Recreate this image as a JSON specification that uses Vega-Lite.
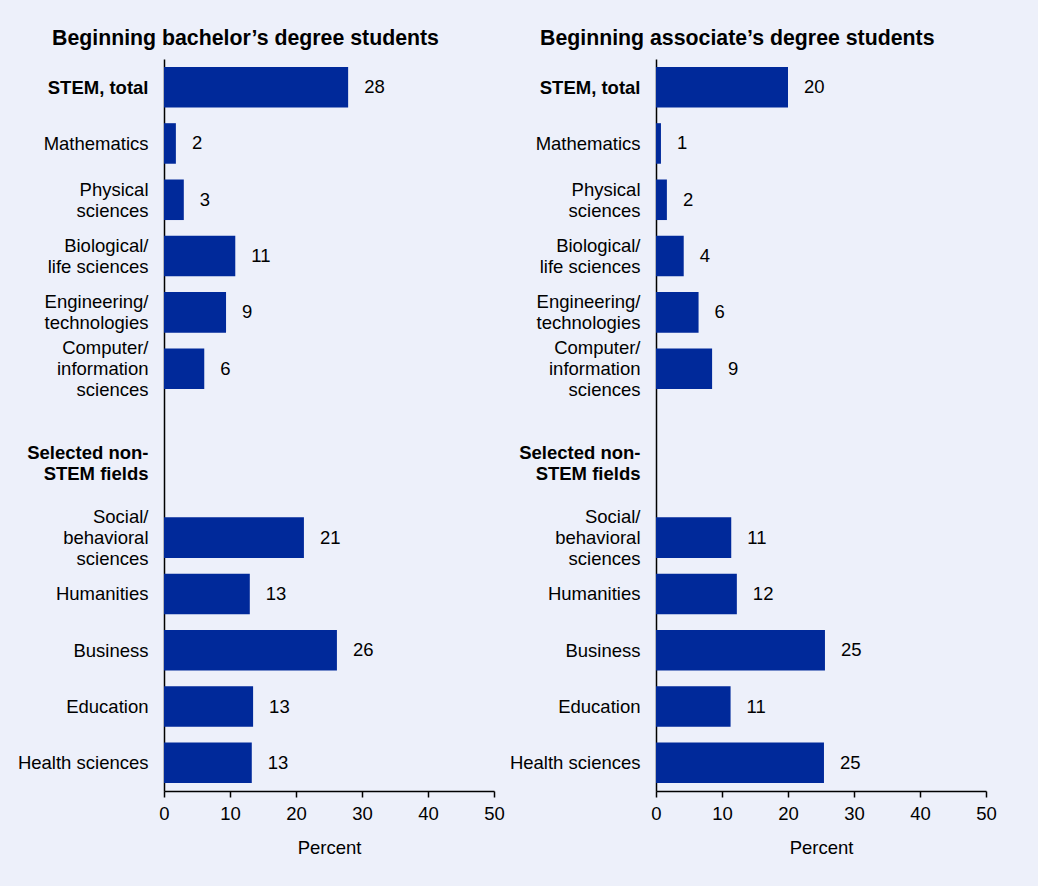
{
  "$schema": "https://vega.github.io/schema/vega-lite/v6.json",
  "background": "#edf0fa",
  "padding": {"left": 17, "top": 27, "right": 42, "bottom": 35},
  "spacing": 4,
  "datasets": {
    "bach": [
      {"field": "STEM, total", "value": 27.9, "label": "28"},
      {"field": "Mathematics", "value": 1.8, "label": "2"},
      {"field": "Physical sciences", "value": 3.0, "label": "3"},
      {"field": "Biological/life sciences", "value": 10.8, "label": "11"},
      {"field": "Engineering/technologies", "value": 9.4, "label": "9"},
      {"field": "Computer/information sciences", "value": 6.1, "label": "6"},
      {"field": "Social/behavioral sciences", "value": 21.2, "label": "21"},
      {"field": "Humanities", "value": 13.0, "label": "13"},
      {"field": "Business", "value": 26.2, "label": "26"},
      {"field": "Education", "value": 13.5, "label": "13"},
      {"field": "Health sciences", "value": 13.3, "label": "13"}
    ],
    "assoc": [
      {"field": "STEM, total", "value": 20.0, "label": "20"},
      {"field": "Mathematics", "value": 0.75, "label": "1"},
      {"field": "Physical sciences", "value": 1.65, "label": "2"},
      {"field": "Biological/life sciences", "value": 4.2, "label": "4"},
      {"field": "Engineering/technologies", "value": 6.45, "label": "6"},
      {"field": "Computer/information sciences", "value": 8.5, "label": "9"},
      {"field": "Social/behavioral sciences", "value": 11.4, "label": "11"},
      {"field": "Humanities", "value": 12.25, "label": "12"},
      {"field": "Business", "value": 25.6, "label": "25"},
      {"field": "Education", "value": 11.3, "label": "11"},
      {"field": "Health sciences", "value": 25.45, "label": "25"}
    ]
  },
  "hconcat": [
    {
      "width": 330,
      "height": 732,
      "data": {"name": "bach"},
      "title": {"text": "Beginning bachelor’s degree students", "anchor": "start", "frame": "group", "dx": -112},
      "encoding": {
        "y": {
          "field": "field",
          "type": "nominal",
          "scale": {
            "domain": ["STEM, total", "Mathematics", "Physical sciences", "Biological/life sciences", "Engineering/technologies", "Computer/information sciences", "gap", "Selected non-STEM fields", "Social/behavioral sciences", "Humanities", "Business", "Education", "Health sciences"],
            "paddingInner": 0.28,
            "paddingOuter": 0.14
          },
          "axis": {
            "title": null,
            "labelExpr": "datum.value == 'gap' ? '' : datum.value == 'Physical sciences' ? ['Physical', 'sciences'] : datum.value == 'Biological/life sciences' ? ['Biological/', 'life sciences'] : datum.value == 'Engineering/technologies' ? ['Engineering/', 'technologies'] : datum.value == 'Computer/information sciences' ? ['Computer/', 'information', 'sciences'] : datum.value == 'Selected non-STEM fields' ? ['Selected non-', 'STEM fields'] : datum.value == 'Social/behavioral sciences' ? ['Social/', 'behavioral', 'sciences'] : datum.value",
            "labelFontWeight": {"condition": {"test": "datum.value == 'STEM, total' || datum.value == 'Selected non-STEM fields'", "value": "bold"}, "value": "normal"},
            "labelOffset": {
              "condition": [
                {"test": "datum.value == 'Selected non-STEM fields'", "value": -28},
                {"test": "datum.value == 'Computer/information sciences' || datum.value == 'Social/behavioral sciences'", "value": -20.5},
                {"test": "datum.value == 'Physical sciences' || datum.value == 'Biological/life sciences' || datum.value == 'Engineering/technologies'", "value": -10}
              ],
              "value": 0.5
            }
          }
        },
        "x": {
          "field": "value",
          "type": "quantitative",
          "scale": {"domain": [0, 50]},
          "axis": {"title": "Percent", "values": [0, 10, 20, 30, 40, 50]}
        }
      },
      "layer": [
        {"mark": {"type": "bar", "color": "#00299a"}},
        {"mark": {"type": "text", "align": "left", "baseline": "middle", "dx": 16, "dy": 0, "fontSize": 18.5, "color": "#000000"}, "encoding": {"text": {"field": "label"}}}
      ]
    },
    {
      "width": 330,
      "height": 732,
      "data": {"name": "assoc"},
      "title": {"text": "Beginning associate’s degree students", "anchor": "start", "frame": "group", "dx": -116},
      "encoding": {
        "y": {
          "field": "field",
          "type": "nominal",
          "scale": {
            "domain": ["STEM, total", "Mathematics", "Physical sciences", "Biological/life sciences", "Engineering/technologies", "Computer/information sciences", "gap", "Selected non-STEM fields", "Social/behavioral sciences", "Humanities", "Business", "Education", "Health sciences"],
            "paddingInner": 0.28,
            "paddingOuter": 0.14
          },
          "axis": {
            "title": null,
            "labelExpr": "datum.value == 'gap' ? '' : datum.value == 'Physical sciences' ? ['Physical', 'sciences'] : datum.value == 'Biological/life sciences' ? ['Biological/', 'life sciences'] : datum.value == 'Engineering/technologies' ? ['Engineering/', 'technologies'] : datum.value == 'Computer/information sciences' ? ['Computer/', 'information', 'sciences'] : datum.value == 'Selected non-STEM fields' ? ['Selected non-', 'STEM fields'] : datum.value == 'Social/behavioral sciences' ? ['Social/', 'behavioral', 'sciences'] : datum.value",
            "labelFontWeight": {"condition": {"test": "datum.value == 'STEM, total' || datum.value == 'Selected non-STEM fields'", "value": "bold"}, "value": "normal"},
            "labelOffset": {
              "condition": [
                {"test": "datum.value == 'Selected non-STEM fields'", "value": -28},
                {"test": "datum.value == 'Computer/information sciences' || datum.value == 'Social/behavioral sciences'", "value": -20.5},
                {"test": "datum.value == 'Physical sciences' || datum.value == 'Biological/life sciences' || datum.value == 'Engineering/technologies'", "value": -10}
              ],
              "value": 0.5
            }
          }
        },
        "x": {
          "field": "value",
          "type": "quantitative",
          "scale": {"domain": [0, 50]},
          "axis": {"title": "Percent", "values": [0, 10, 20, 30, 40, 50]}
        }
      },
      "layer": [
        {"mark": {"type": "bar", "color": "#00299a"}},
        {"mark": {"type": "text", "align": "left", "baseline": "middle", "dx": 16, "dy": 0, "fontSize": 18.5, "color": "#000000"}, "encoding": {"text": {"field": "label"}}}
      ]
    }
  ],
  "config": {
    "font": "Liberation Sans",
    "view": {"stroke": null},
    "title": {"fontSize": 21.3, "fontWeight": "bold", "color": "#000000", "offset": 10},
    "axis": {
      "labelFont": "Liberation Sans",
      "titleFont": "Liberation Sans",
      "labelFontSize": 18.5,
      "labelColor": "#000000",
      "titleFontSize": 18.5,
      "titleFontWeight": "normal",
      "titleColor": "#000000",
      "domainColor": "#000000",
      "domainWidth": 1.5,
      "grid": false
    },
    "axisY": {
      "ticks": false,
      "labelPadding": 16,
      "labelLimit": 300,
      "labelLineHeight": 21
    },
    "axisX": {
      "ticks": true,
      "tickColor": "#000000",
      "tickSize": 6,
      "tickWidth": 1.5,
      "labelFlush": false,
      "labelPadding": 7,
      "titlePadding": 16
    }
  }
}
